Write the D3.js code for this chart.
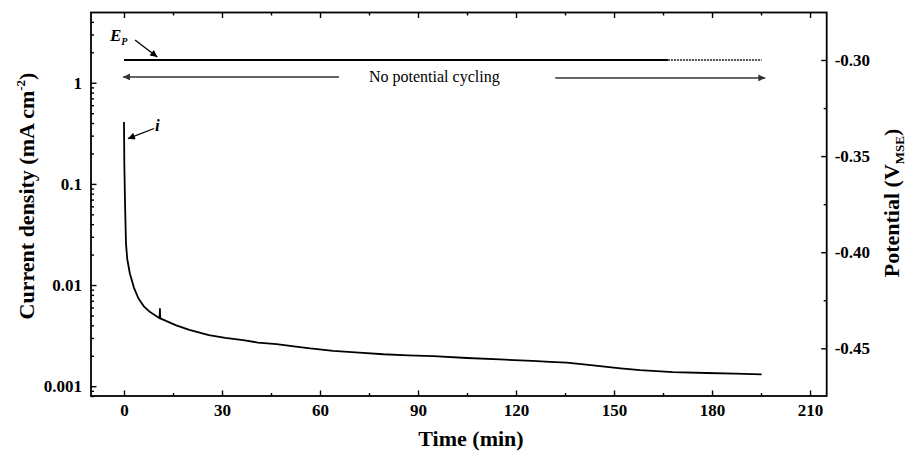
<!DOCTYPE html>
<html><head><meta charset="utf-8">
<script src="https://cdn.jsdelivr.net/npm/d3@7"></script>
<style>
body{margin:0;background:#fff}
svg{display:block}
text{font-family:"Liberation Serif","Times New Roman",Times,serif}
</style>
</head><body>
<svg id="c" width="913" height="451"></svg>
<script>
// ---- data ----
const timeMin = [0, 0.1, 0.3, 0.6, 1.0, 1.8, 3, 4.4, 6, 8, 10.9, 11.0, 11.1, 13, 16, 20, 26, 31, 36.5, 41, 46.7, 52, 57, 64, 72, 79.4, 87, 94.7, 105, 115, 125, 130.4, 135.5, 140, 145.7, 152, 158, 168, 178.4, 187, 195.2];
const currentDensity = [0.41, 0.16, 0.069, 0.026, 0.018, 0.013, 0.0095, 0.0074, 0.0062, 0.0054, 0.0047, 0.0058, 0.00468, 0.0044, 0.0040, 0.0036, 0.0032, 0.0030, 0.00285, 0.0027, 0.0026, 0.00248, 0.00236, 0.00223, 0.00215, 0.00207, 0.00202, 0.00198, 0.00190, 0.00184, 0.00178, 0.00174, 0.00171, 0.00165, 0.00158, 0.0015, 0.00144, 0.00138, 0.00135, 0.00133, 0.00131];
const potentialTime = [0, 166.5, 195.2];
const potentialValue = [-0.30, -0.30, -0.30];
const xTicks = [0, 30, 60, 90, 120, 150, 180, 210];
const xMinorTicks = [15, 45, 75, 105, 135, 165, 195];
const yLeftTicks = [0.001, 0.01, 0.1, 1];
const yLeftTickLabels = ["0.001", "0.01", "0.1", "1"];
const yRightTicks = [-0.30, -0.35, -0.40, -0.45];
const yRightTickLabels = ["-0.30", "-0.35", "-0.40", "-0.45"];
const yRightMinorTicks = [-0.325, -0.375, -0.425];

// ---- layout ----
const W = 913, H = 451;
const m = {left: 91, top: 12.5, right: 86.3, bottom: 55};
const svg = d3.select("#c");
const x = d3.scaleLinear().domain([-10.1, 215.1]).range([m.left, W - m.right]);
const yL = d3.scaleLog().domain([0.0008, 4.95]).range([H - m.bottom, m.top]);
const yR = d3.scaleLinear().domain([-0.4748, -0.2753]).range([H - m.bottom, m.top]);

const defs = svg.append("defs");
function marker(id, color){
  defs.append("marker").attr("id", id).attr("viewBox", "0 0 10 10")
    .attr("refX", 10).attr("refY", 5).attr("markerWidth", 10).attr("markerHeight", 7)
    .attr("markerUnits", "userSpaceOnUse").attr("orient", "auto")
    .append("path").attr("d", "M0,0 L10,5 L0,10 Z").attr("fill", color);
}
marker("ah", "#000");
marker("ahg", "#333");

// minor log ticks
const yLeftMinor = [];
[0.0001, 0.001, 0.01, 0.1, 1].forEach(d => { for (let k = 2; k <= 9; k++) { const v = d * k; if (v >= yL.domain()[0] && v <= yL.domain()[1]) yLeftMinor.push(v); } });

const fmtL = d => yLeftTickLabels[yLeftTicks.indexOf(d)];
const fmtR = d => yRightTickLabels[yRightTicks.indexOf(d)];

function styleAxis(g){
  g.select(".domain").remove();
  g.selectAll("line").attr("stroke", "#000").attr("stroke-width", 1.4);
  g.selectAll("text").attr("font-size", 17).attr("font-weight", "bold").attr("fill", "#000");
}

// bottom axis
svg.append("g").attr("transform", `translate(0,${H - m.bottom})`)
  .call(d3.axisBottom(x).tickValues(xTicks).tickSizeInner(-5.5).tickSizeOuter(0).tickPadding(8).tickFormat(d3.format("d")))
  .call(styleAxis);
svg.append("g").attr("transform", `translate(0,${H - m.bottom})`)
  .call(d3.axisBottom(x).tickValues(xMinorTicks).tickSizeInner(-3).tickSizeOuter(0).tickFormat(""))
  .call(styleAxis);
// top axis
svg.append("g").attr("transform", `translate(0,${m.top})`)
  .call(d3.axisTop(x).tickValues(xTicks).tickSizeInner(-5.5).tickSizeOuter(0).tickFormat(""))
  .call(styleAxis);
svg.append("g").attr("transform", `translate(0,${m.top})`)
  .call(d3.axisTop(x).tickValues(xMinorTicks).tickSizeInner(-3).tickSizeOuter(0).tickFormat(""))
  .call(styleAxis);
// left axis
svg.append("g").attr("transform", `translate(${m.left},0)`)
  .call(d3.axisLeft(yL).tickValues(yLeftTicks).tickSizeInner(-5.5).tickSizeOuter(0).tickPadding(9).tickFormat(fmtL))
  .call(styleAxis);
svg.append("g").attr("transform", `translate(${m.left},0)`)
  .call(d3.axisLeft(yL).tickValues(yLeftMinor).tickSizeInner(-3).tickSizeOuter(0).tickFormat(""))
  .call(styleAxis);
// right axis
svg.append("g").attr("transform", `translate(${W - m.right},0)`)
  .call(d3.axisRight(yR).tickValues(yRightTicks).tickSizeInner(-5.5).tickSizeOuter(0).tickPadding(8).tickFormat(fmtR))
  .call(styleAxis);
svg.append("g").attr("transform", `translate(${W - m.right},0)`)
  .call(d3.axisRight(yR).tickValues(yRightMinorTicks).tickSizeInner(-3).tickSizeOuter(0).tickFormat(""))
  .call(styleAxis);

// frame
svg.append("rect").attr("x", m.left).attr("y", m.top)
  .attr("width", W - m.left - m.right).attr("height", H - m.top - m.bottom)
  .attr("fill", "none").attr("stroke", "#000").attr("stroke-width", 1.8);

// current density curve
const cur = timeMin.map((t, i) => [t, currentDensity[i]]);
svg.append("path").datum(cur)
  .attr("d", d3.line().x(d => x(d[0])).y(d => yL(d[1])))
  .attr("fill", "none").attr("stroke", "#000").attr("stroke-width", 1.8).attr("stroke-linejoin", "round");

// potential line
const pot = potentialTime.map((t, i) => [t, potentialValue[i]]);
const pline = d3.line().x(d => x(d[0])).y(d => yR(d[1]));
svg.append("path").datum(pot.slice(0, 2)).attr("d", pline)
  .attr("fill", "none").attr("stroke", "#000").attr("stroke-width", 2.2);
svg.append("path").datum(pot.slice(1)).attr("d", pline)
  .attr("fill", "none").attr("stroke", "#555").attr("stroke-width", 2).attr("stroke-dasharray", "2,1");

// "No potential cycling" arrows
const yArr = yR(-0.3088);
svg.append("line").attr("x1", x(65.8)).attr("x2", x(-0.3)).attr("y1", yArr).attr("y2", yArr)
  .attr("stroke", "#333").attr("stroke-width", 1.5).attr("marker-end", "url(#ahg)");
svg.append("line").attr("x1", x(132)).attr("x2", x(196.3)).attr("y1", yArr + 1).attr("y2", yArr + 1)
  .attr("stroke", "#333").attr("stroke-width", 1.5).attr("marker-end", "url(#ahg)");
svg.append("text").attr("x", x(95)).attr("y", yArr + 5.5).attr("text-anchor", "middle")
  .attr("font-size", 16).attr("fill", "#000").text("No potential cycling");

// E_P label
const ep = svg.append("text").attr("x", 110).attr("y", 41).attr("font-size", 17)
  .attr("font-style", "italic").attr("font-weight", "bold");
ep.append("tspan").text("E");
ep.append("tspan").attr("font-size", 10).attr("dy", 4).text("P");
svg.append("line").attr("x1", 135).attr("y1", 40).attr("x2", x(10.2)).attr("y2", yR(-0.3) - 3)
  .attr("stroke", "#000").attr("stroke-width", 1.3).attr("marker-end", "url(#ah)");

// i label
svg.append("text").attr("x", 155).attr("y", 131).attr("font-size", 17)
  .attr("font-style", "italic").attr("font-weight", "bold").text("i");
svg.append("line").attr("x1", 154).attr("y1", 128.5).attr("x2", x(1.2)).attr("y2", yL(0.28))
  .attr("stroke", "#000").attr("stroke-width", 1.3).attr("marker-end", "url(#ah)");

// axis titles
svg.append("text").attr("x", 471).attr("y", 446).attr("text-anchor", "middle")
  .attr("font-size", 22).attr("font-weight", "bold").text("Time (min)");
const lt = svg.append("text").attr("transform", "translate(34,196) rotate(-90)").attr("text-anchor", "middle")
  .attr("font-size", 22).attr("font-weight", "bold");
lt.append("tspan").text("Current density (mA cm");
lt.append("tspan").attr("font-size", 13).attr("dy", -9).text("-2");
lt.append("tspan").attr("dy", 9).text(")");
const rt = svg.append("text").attr("transform", "translate(899,203) rotate(-90)").attr("text-anchor", "middle")
  .attr("font-size", 22).attr("font-weight", "bold");
rt.append("tspan").text("Potential (V");
rt.append("tspan").attr("font-size", 13).attr("dy", 5).text("MSE");
rt.append("tspan").attr("dy", -5).text(")");
</script>
</body></html>
